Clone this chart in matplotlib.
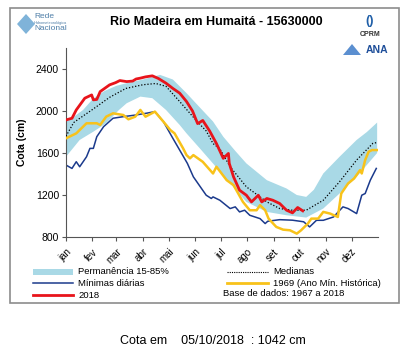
import matplotlib.pyplot as plt
from matplotlib.patches import Rectangle, Polygon
from matplotlib.lines import Line2D

plt.rcParams['font.family'] = ['Liberation Sans', 'DejaVu Sans']

# day of year (0 = 1 jan) and cota (cm)
band_up_days = [0, 10, 20, 32, 45, 59, 71, 90, 110, 125, 141, 157, 172, 184, 198, 211, 235,
                258, 270, 281, 290, 301, 320, 340, 352, 364]
band_up = [1920, 1950, 2010, 2120, 2190, 2240, 2265, 2300, 2344, 2300, 2170, 2030, 1900, 1755,
           1620, 1501, 1341, 1262, 1200, 1182, 1250, 1405, 1564, 1724, 1800, 1890]
band_lo_days = [0, 16, 32, 47, 62, 71, 87, 101, 117, 133, 141, 157, 172, 192, 211, 235, 258,
                281, 301, 320, 340, 364]
band_lo = [1564, 1724, 1803, 1883, 2010, 2074, 2137, 2122, 2010, 1867, 1787, 1640, 1500, 1310,
           1134, 1039, 1007, 985, 1071, 1214, 1373, 1600]

med_days = [0, 9, 16, 32, 51, 70, 90, 105, 117, 133, 148, 157, 164, 172, 180, 192, 211, 235,
            250, 265, 281, 301, 320, 340, 359, 364]
medianas = [1760, 1890, 1930, 2020, 2130, 2215, 2250, 2262, 2235, 2090, 1950, 1870, 1810, 1690,
            1640, 1469, 1278, 1134, 1071, 1055, 1055, 1150, 1326, 1533, 1692, 1700]

min_days = [0, 7, 12, 16, 24, 28, 32, 36, 44, 55, 67, 80, 95, 104, 114, 125, 142, 149, 164, 170,
            172, 180, 192, 198, 203, 209, 215, 227, 233, 236, 250, 265, 278, 285, 293, 301, 313,
            324, 330, 340, 346, 350, 356, 363]
minimas = [1485, 1453, 1517, 1469, 1564, 1644, 1644, 1755, 1851, 1931, 1946, 1960, 1980, 1994,
           1898, 1740, 1501, 1373, 1198, 1167, 1182, 1150, 1071, 1087, 1039, 1055, 1007, 975, 928,
           950, 965, 960, 945, 896, 959, 959, 991, 1087, 1071, 1023, 1198, 1214, 1341, 1453]

y1969_days = [0, 12, 24, 36, 40, 47, 55, 67, 73, 81, 87, 93, 104, 114, 122, 127, 137, 141, 145,
              149, 160, 172, 176, 188, 196, 207, 215, 223, 227, 233, 237, 246, 254, 262, 270, 275,
              283, 287, 295, 301, 309, 318, 322, 330, 337, 344, 346, 350, 354, 358, 364]
y1969 = [1740, 1787, 1883, 1883, 1867, 1946, 1978, 1962, 1921, 1946, 2010, 1946, 1994, 1898, 1819,
         1787, 1644, 1580, 1549, 1580, 1516, 1405, 1469, 1341, 1294, 1134, 1055, 1055, 1103, 1055,
         975, 896, 870, 864, 832, 864, 928, 975, 975, 1039, 1023, 991, 1214, 1310, 1357, 1437,
         1405, 1533, 1612, 1628, 1628]

y2018_days = [0, 7, 12, 22, 30, 32, 36, 40, 51, 58, 63, 71, 78, 82, 87, 93, 101, 108, 117, 125,
              133, 141, 148, 154, 160, 168, 176, 184, 190, 191, 196, 203, 211, 217, 225, 229, 235,
              242, 250, 258, 265, 271, 277]
y2018 = [1915, 1931, 2010, 2122, 2153, 2106, 2110, 2185, 2249, 2270, 2290, 2280, 2285, 2305, 2313,
         2325, 2335, 2310, 2265, 2215, 2170, 2090, 2000, 1880, 1910, 1810, 1690, 1549, 1596, 1501,
         1373, 1246, 1198, 1134, 1198, 1134, 1167, 1150, 1119, 1055, 1030, 1081, 1049]

month_starts = [0, 31, 59, 90, 120, 151, 181, 212, 243, 273, 304, 334]
month_labels = ['jan', 'fev', 'mar', 'abr', 'mai', 'jun', 'jul', 'ago', 'set', 'out', 'nov', 'dez']
y_ticks = [800, 1200, 1600, 2000, 2400]

c_band = '#a9d9e6'
c_min = '#1b3a8c'
c_red = '#e8141b'
c_yel = '#f8c21a'

fig = plt.figure(figsize=(4.10, 3.54), dpi=100)
W, H = 410, 354


def fx(px):
    return px / W


def fy(py):
    return 1 - py / H


# outer frame
fig.patches.append(Rectangle((fx(10), fy(303)), fx(389), 295 / H, transform=fig.transFigure,
                             fill=False, edgecolor='#8c8c8c', linewidth=1.2))

ax = fig.add_axes([fx(66), fy(237), fx(312), (237 - 48) / H])

# the band is a polygon from its upper edge and its reversed lower edge
poly = list(zip(band_up_days, band_up)) + list(zip(band_lo_days[::-1], band_lo[::-1]))
ax.add_patch(Polygon(poly, closed=True, facecolor=c_band, edgecolor='none', zorder=2))
ax.plot(min_days, minimas, color=c_min, lw=1.1, zorder=1)
ax.plot(med_days, medianas, color='black', lw=0.9, ls=(0, (1, 1.5)), zorder=3)
ax.plot(y1969_days, y1969, color=c_yel, lw=1.8, zorder=4)
ax.plot(y2018_days, y2018, color=c_red, lw=2.0, zorder=5)

ax.set_xlim(0, 365)
ax.set_ylim(800, 2600)
ax.set_yticks(y_ticks)
ax.set_yticklabels([str(v) for v in y_ticks], fontsize=7.5)
ax.set_xticks(month_starts)
ax.set_xticklabels(month_labels, fontsize=7, rotation=45, ha='right', rotation_mode='anchor')
ax.tick_params(axis='both', length=3, width=0.8, color='#555555', pad=2)
ax.tick_params(axis='x', pad=4)
for s in ['top', 'right']:
    ax.spines[s].set_visible(False)
for s in ['left', 'bottom']:
    ax.spines[s].set_color('#555555')
    ax.spines[s].set_linewidth(0.8)
ax.set_ylabel('Cota (cm)', fontsize=7.5, fontweight='bold', labelpad=6)

# header
fig.text(fx(216), fy(22), 'Rio Madeira em Humaitá - 15630000', fontsize=9, fontweight='bold',
         ha='center', va='center')
fig.patches.append(Polygon([(fx(17), fy(24)), (fx(26), fy(14)), (fx(35), fy(24)), (fx(26), fy(34))],
                           closed=True, transform=fig.transFigure, facecolor='#7fb3d9',
                           edgecolor='none'))
fig.text(fx(34), fy(16), 'Rede', fontsize=6, color='#4f7fa8', va='center')
fig.text(fx(34), fy(23), 'Hidrometeorológica', fontsize=2.8, color='#4f7fa8', va='center')
fig.text(fx(34), fy(29), 'Nacional', fontsize=6, color='#4f7fa8', va='center')
fig.text(fx(370), fy(21), '()', fontsize=9, fontweight='bold', color='#1f5fa8',
         ha='center', va='center')
fig.text(fx(370), fy(34), 'CPRM', fontsize=5, fontweight='bold', color='#333333',
         ha='center', va='center')
fig.text(fx(377), fy(50), 'ANA', fontsize=7.5, fontweight='bold', color='#1f4f9a',
         ha='center', va='center')
fig.patches.append(Polygon([(fx(343), fy(55)), (fx(352), fy(44)), (fx(361), fy(55))],
                           closed=True, transform=fig.transFigure, facecolor='#5b8fd0',
                           edgecolor='none'))

# legend drawn by hand below the axes
fig.patches.append(Rectangle((fx(33), fy(275)), fx(40), 6 / H, transform=fig.transFigure,
                             facecolor=c_band, edgecolor='none'))
fig.text(fx(78), fy(272), 'Permanência 15-85%', fontsize=6.8, va='center')
fig.lines.append(Line2D([fx(33), fx(73)], [fy(283), fy(283)], transform=fig.transFigure,
                        color=c_min, lw=1.1))
fig.text(fx(78), fy(283), 'Mínimas diárias', fontsize=6.8, va='center')
fig.lines.append(Line2D([fx(33), fx(73)], [fy(295), fy(295)], transform=fig.transFigure,
                        color=c_red, lw=2.0))
fig.text(fx(78), fy(295), '2018', fontsize=6.8, va='center')
fig.lines.append(Line2D([fx(227), fx(268)], [fy(272), fy(272)], transform=fig.transFigure,
                        color='black', lw=0.8, ls=(0, (1, 1))))
fig.text(fx(273), fy(272), 'Medianas', fontsize=6.8, va='center')
fig.lines.append(Line2D([fx(227), fx(268)], [fy(283), fy(283)], transform=fig.transFigure,
                        color=c_yel, lw=2.0))
fig.text(fx(273), fy(283), '1969 (Ano Mín. Histórica)', fontsize=6.8, va='center')
fig.text(fx(223), fy(293), 'Base de dados: 1967 a 2018', fontsize=6.8, va='center')

fig.text(fx(120), fy(341), 'Cota em    05/10/2018  : 1042 cm', fontsize=9, va='center')

fig.savefig('out.png', dpi=100)
